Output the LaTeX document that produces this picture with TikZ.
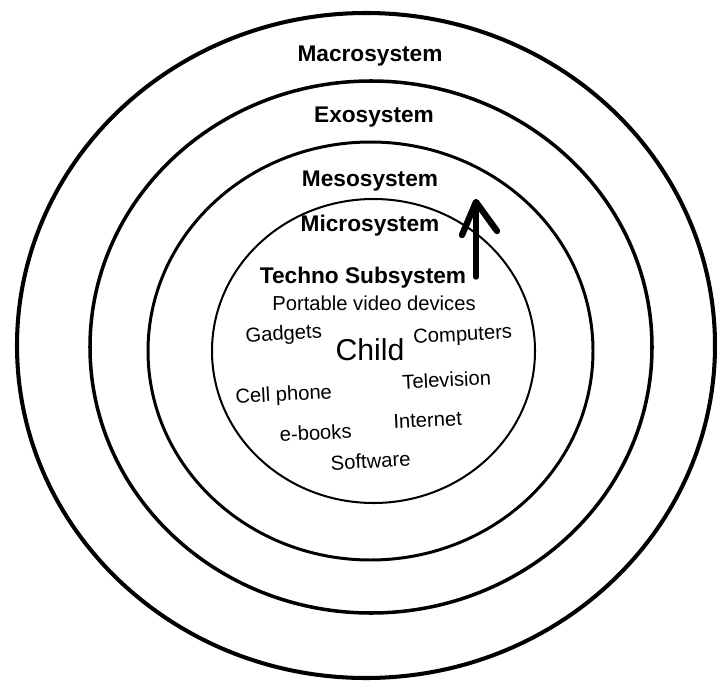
\documentclass[tikz,border=0pt]{standalone}
\usepackage{fontspec}
\setmainfont{Liberation Sans}
\begin{document}
\begin{tikzpicture}[
	sysname/.style={anchor=base, font=\fontsize{12.9}{14}\selectfont\bfseries},
	device/.style={anchor=base, font=\fontsize{11.5}{13}\selectfont, rotate=3},
	arrowpen/.style={line width=3.1pt, line cap=round, line join=round}
	]
	\useasboundingbox (0,0) rectangle (14.34,13.64);
	
	% the four systems
	\draw [line width=2.3pt] (7.32,6.73) ellipse (6.98 and 6.65);
	\draw [line width=2pt] (7.42,6.70) ellipse (5.62 and 5.32);
	\draw [line width=1.7pt] (7.41,6.62) ellipse (4.45 and 4.18);
	\draw [line width=1.15pt] (7.47,6.62) ellipse (3.23 and 3.04);
	
	\node [sysname] (macro) at (7.40,12.42) {Macrosystem};
	\node [sysname] (exo) at (7.48,11.20) {Exosystem};
	\node [sysname] (meso) at (7.40,9.92) {Mesosystem};
	\node [sysname] (micro) at (7.40,9.02) {Microsystem};
	\node [sysname] (techno) at (7.26,7.98) {Techno Subsystem};
	
	\node [anchor=base, font=\fontsize{11.5}{13}\selectfont] (portable) at (7.48,7.44) {Portable video devices};
	\node [anchor=base, font=\fontsize{17.2}{19}\selectfont] (child) at (7.40,6.44) {Child};
	
	\node [device] (gadgets) at (5.68,6.84) {Gadgets};
	\node [device] (computers) at (9.26,6.82) {Computers};
	\node [device] (tv) at (8.94,5.90) {Television};
	\node [device] (cell) at (5.68,5.62) {Cell phone};
	\node [device] (internet) at (8.56,5.10) {Internet};
	\node [device] (ebooks) at (6.32,4.84) {e-books};
	\node [device] (software) at (7.42,4.28) {Software};
	
	% hand drawn arrow
	\coordinate (arrowbase) at (9.52,8.10);
	\coordinate (arrowtip) at (9.52,9.60);
	\coordinate (wingleft) at (9.24,8.94);
	\coordinate (wingright) at (9.94,9.02);
	\draw [arrowpen] (arrowbase) -- (arrowtip);
	\draw [arrowpen, line width=3.6pt] (wingleft) -- (arrowtip) -- (wingright);
	
\end{tikzpicture}
\end{document}
